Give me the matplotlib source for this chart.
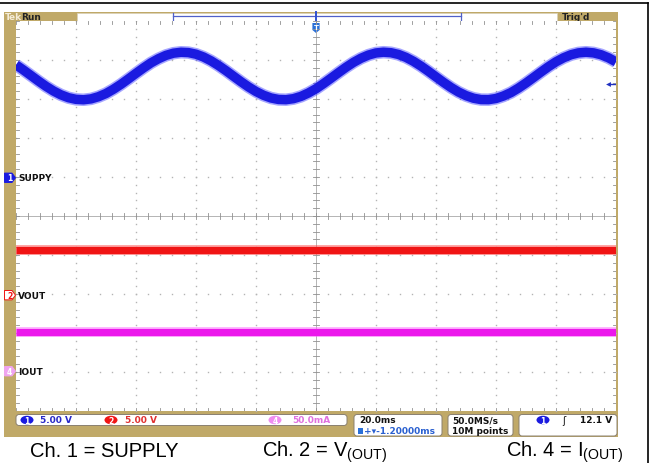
import numpy as np
import matplotlib
matplotlib.use("Agg")
import matplotlib.pyplot as plt
from matplotlib.patches import Rectangle, FancyBboxPatch, Polygon, Ellipse
from matplotlib.transforms import blended_transform_factory

# scope traces, in screen divisions (10 x 10 graticule, centre = 0,0)
t_div = np.linspace(-5, 5, 81)
supply_div = [3.875, 3.742, 3.601, 3.460, 3.325, 3.205, 3.106, 3.033, 2.991, 2.980,
              3.003, 3.059, 3.141, 3.251, 3.377, 3.516, 3.658, 3.797, 3.927, 4.033,
              4.119, 4.175, 4.199, 4.190, 4.149, 4.077, 3.979, 3.859, 3.726, 3.584,
              3.443, 3.310, 3.192, 3.096, 3.026, 2.988, 2.982, 3.009, 3.067, 3.155,
              3.263, 3.394, 3.533, 3.675, 3.813, 3.939, 4.045, 4.127, 4.181, 4.200,
              4.187, 4.142, 4.067, 3.966, 3.844, 3.709, 3.567, 3.427, 3.295, 3.179,
              3.086, 3.020, 2.985, 2.983, 3.013, 3.077, 3.165, 3.280, 3.410, 3.550,
              3.692, 3.829, 3.954, 4.056, 4.135, 4.183, 4.200, 4.183, 4.135, 4.056,
              3.952]
vout_t = [-5, 5]
vout_div = [-0.86, -0.86]
iout_t = [-5, 5]
iout_div = [-2.98, -2.98]

# channel ground markers and trigger level (divisions)
ch_names = ["SUPPY", "VOUT", "IOUT"]
ch_ground = [0.98, -2.03, -3.98]
trig_level = 3.39

ch_scale = ["5.00 V", "5.00 V", "50.0mA"]
timebase = "20.0ms"
delay = "-1.20000ms"
rate = ["50.0MS/s", "10M points"]
trig_text = "12.1 V"

captions = ["Ch. 1 = SUPPLY", "Ch. 2 = V$_{\\mathregular{(OUT)}}$", "Ch. 4 = I$_{\\mathregular{(OUT)}}$"]

TAN = "#c0a968"
BLUE = "#1a1ae0"
RED = "#f01414"
MAG = "#ec18ec"
GRID = "#b4b4b4"

plt.rcParams["mathtext.fontset"] = "custom"
plt.rcParams["mathtext.rm"] = "Liberation Sans"

fig = plt.figure(figsize=(6.5, 4.64), dpi=100)
fig.patch.set_facecolor("white")

# background axes in pixel coordinates
bg = fig.add_axes([0, 0, 1, 1])
bg.set_xlim(0, 650)
bg.set_ylim(464, 0)
bg.axis("off")

bg.plot([0, 648], [4, 4], color="black", lw=1.2)
bg.plot([648, 648], [4, 464], color="black", lw=1.2)
bg.add_patch(Rectangle((4, 13), 614, 425, facecolor=TAN, edgecolor="none"))

# top bar
bg.add_patch(Rectangle((77, 13.5), 480, 8, facecolor="white", edgecolor="#d8d0b8", lw=0.5))
bg.plot([173, 461], [17, 17], color="#5060c8", lw=0.9)
bg.plot([173, 173], [13.5, 21.5], color="#5060c8", lw=0.9)
bg.plot([461, 461], [13.5, 21.5], color="#5060c8", lw=0.9)
bg.plot([316, 316], [13, 22], color="#3050d0", lw=1.4)
ui = dict(family="DejaVu Sans", fontweight="bold", fontsize=6.5)
bg.text(5, 17.5, "Tek", color="#f4ecd8", va="center", **ui)
bg.text(21, 17.5, "Run", color="#222222", va="center", **ui)
bg.text(562, 17.5, "Trig'd", color="#222222", va="center", **ui)

# graticule axes
g = fig.add_axes([16 / 650, 1 - 412 / 464, 600 / 650, 390 / 464])
g.set_xlim(-5, 5)
g.set_ylim(-5, 5)
g.set_facecolor("white")
for s in g.spines.values():
    s.set_visible(False)
g.set_xticks([])
g.set_yticks([])

minor_x = np.arange(-5, 5.001, 0.2)
minor_y = np.arange(-5, 5.001, 0.2)
for k in range(-4, 5):
    if k == 0:
        continue
    g.plot(minor_x, np.full_like(minor_x, k), ls="none", marker="s", ms=1.0, mew=0, color=GRID)
    g.plot(np.full_like(minor_y, k), minor_y, ls="none", marker="s", ms=1.0, mew=0, color=GRID)
g.axhline(0, color="#a8a8a8", lw=0.6)
g.axvline(0, color="#a8a8a8", lw=0.6)
for v in minor_x:
    g.plot([v, v], [-0.07, 0.07], color="#909090", lw=0.6)
    g.plot([v, v], [-5, -4.92], color="#909090", lw=0.6)
    g.plot([v, v], [5, 4.92], color="#909090", lw=0.6)
for v in minor_y:
    g.plot([-0.05, 0.05], [v, v], color="#909090", lw=0.6)
    g.plot([-5, -4.95], [v, v], color="#909090", lw=0.6)
    g.plot([5, 4.95], [v, v], color="#909090", lw=0.6)

# traces
g.plot(t_div, supply_div, color="#3a3aff", lw=9.0, alpha=0.45, solid_capstyle="butt")
g.plot(t_div, supply_div, color=BLUE, lw=6.8, solid_capstyle="butt")
g.plot(vout_t, vout_div, color="#ff5050", lw=7.2, alpha=0.5, solid_capstyle="butt")
g.plot(vout_t, vout_div, color=RED, lw=5.2, solid_capstyle="butt")
g.plot(iout_t, iout_div, color="#ff70ff", lw=7.2, alpha=0.5, solid_capstyle="butt")
g.plot(iout_t, iout_div, color=MAG, lw=5.2, solid_capstyle="butt")

# trigger level arrow on the right
g.plot([4.88, 4.98], [trig_level, trig_level], color="#2030c0", lw=1.0)
g.plot([4.87], [trig_level], marker="<", ms=3.5, color="#2030c0", mew=0)

# trigger position marker at top
tr = blended_transform_factory(g.transData, bg.transData)
g.add_patch(Polygon([(-0.06, 24), (0.06, 24), (0.06, 31), (0, 34), (-0.06, 31)],
                    closed=True, facecolor="#2a70d8", edgecolor="none", transform=tr, clip_on=False))
g.text(0, 28.5, "T", color="white", ha="center", va="center", fontsize=5, fontweight="bold",
       transform=tr, clip_on=False)

# channel ground markers on the left
tl = blended_transform_factory(bg.transData, g.transData)
mk_face = [BLUE, "white", "#f0a4f0"]
mk_edge = [BLUE, RED, "#f0a4f0"]
mk_txt = ["white", RED, "white"]
for name, yv, fc, ec, tc, num in zip(ch_names, ch_ground, mk_face, mk_edge, mk_txt, ["1", "2", "4"]):
    h = 0.12
    bg.add_patch(Polygon([(4.5, yv + h), (12, yv + h), (15.5, yv), (12, yv - h), (4.5, yv - h)],
                         closed=True, facecolor=fc, edgecolor=ec, lw=0.7, transform=tl))
    bg.text(9.5, yv, num, color=tc, ha="center", va="center", fontsize=5.5, fontweight="bold",
            transform=tl)
    g.text(18, yv, name, color="#111111", ha="left", va="center", transform=tl, clip_on=False, **ui)

# status bar
def box(x0, y0, x1, y1):
    bg.add_patch(FancyBboxPatch((x0, y0), x1 - x0, y1 - y0, boxstyle="round,pad=0,rounding_size=3",
                                facecolor="white", edgecolor="#8a8070", lw=0.7))

box(16, 415.5, 347, 426.5)
box(354, 415.5, 442, 437)
box(448, 415.5, 513, 437)
box(519, 415.5, 617, 437)

oval_x = [27, 111, 275]
oval_fc = [BLUE, RED, "#f08cf0"]
scale_x = [40, 125, 292]
scale_c = ["#2828c8", "#e03030", "#e070e0"]
for ox, fc, sx, sc, lab, num in zip(oval_x, oval_fc, scale_x, scale_c, ch_scale, ["1", "2", "4"]):
    bg.add_patch(Ellipse((ox, 421), 13, 8.5, facecolor=fc, edgecolor="none"))
    bg.text(ox, 421.3, num, color="white", ha="center", va="center", fontsize=5.5, fontweight="bold")
    bg.text(sx, 421, lab, color=sc, ha="left", va="center", **ui)

bg.text(359, 421, timebase, color="#111111", ha="left", va="center", **ui)
bg.add_patch(Rectangle((358, 428.5), 5, 6, facecolor="#2a70d8", edgecolor="none"))
bg.text(364, 431.8, "+\u25be" + delay, color="#2a60d0", ha="left", va="center", **ui)
bg.text(452, 421, rate[0], color="#111111", ha="left", va="center", **ui)
bg.text(452, 431.5, rate[1], color="#111111", ha="left", va="center", **ui)
bg.add_patch(Ellipse((543, 421), 13, 8.5, facecolor=BLUE, edgecolor="none"))
bg.text(543, 421.3, "1", color="white", ha="center", va="center", fontsize=5.5, fontweight="bold")
bg.text(564, 421, "\u0283", color="#111111", ha="center", va="center", fontsize=7)
bg.text(612, 421, trig_text, color="#111111", ha="right", va="center", **ui)

# caption below the screenshot
cap_x = [30, 262, 506]
for cx, c in zip(cap_x, captions):
    bg.text(cx, 457, c, color="black", ha="left", va="baseline", fontsize=14.5,
            family="Liberation Sans")

fig.savefig("out.png", dpi=100)
